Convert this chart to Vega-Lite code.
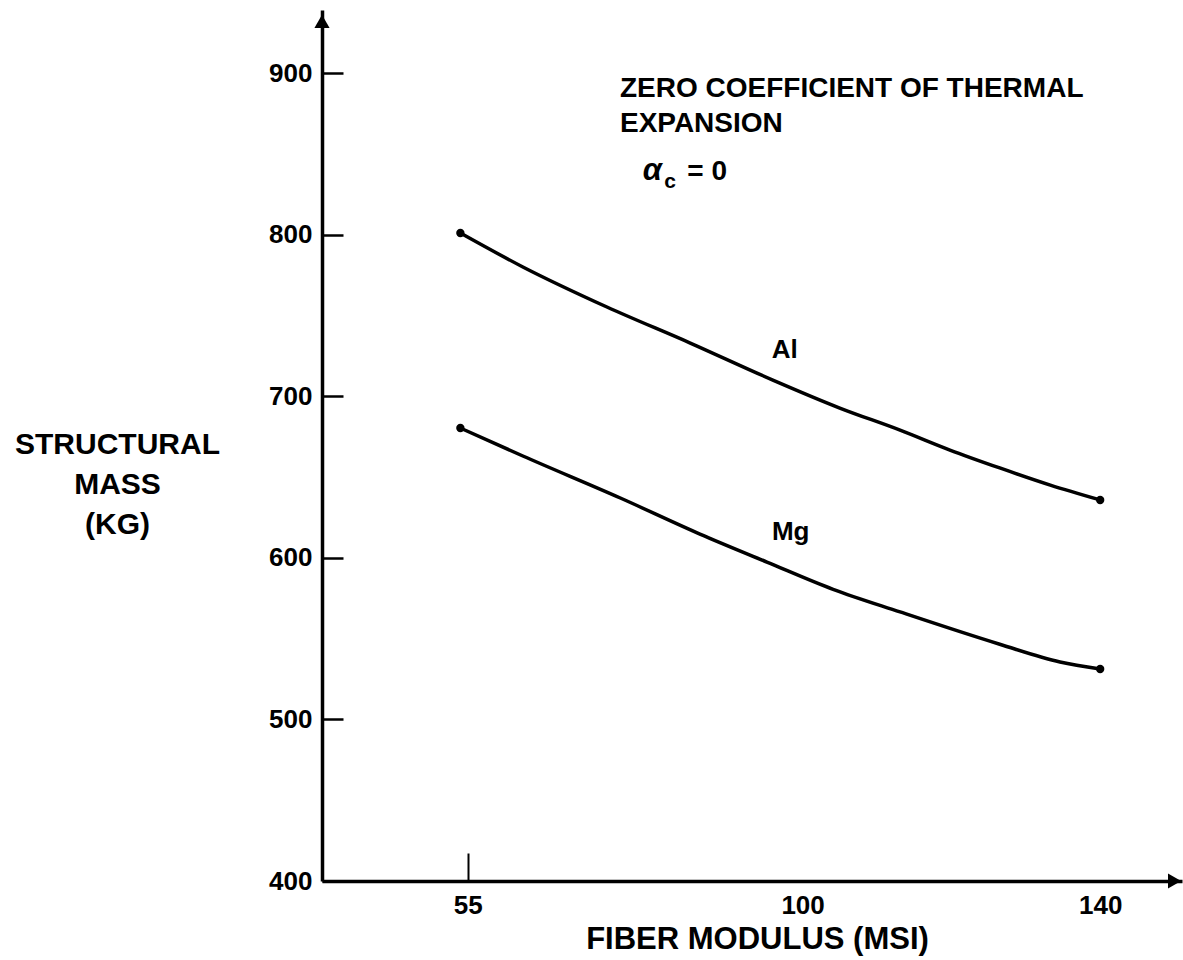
{
  "$schema": "https://vega.github.io/schema/vega-lite/v6.json",
  "width": 860,
  "height": 871,
  "autosize": {"type": "none"},
  "padding": {"left": 322, "top": 10, "right": 1, "bottom": 79},
  "background": "white",
  "config": {"view": {"stroke": null}, "font": "Liberation Sans"},
  "datasets": {
    "curves": [
      {"series": "Al", "x": 54.0, "y": 801},
      {"series": "Al", "x": 62.4, "y": 780},
      {"series": "Al", "x": 73.7, "y": 755.2},
      {"series": "Al", "x": 84.9, "y": 732.9},
      {"series": "Al", "x": 96.0, "y": 710},
      {"series": "Al", "x": 105.0, "y": 692.7},
      {"series": "Al", "x": 113.1, "y": 679},
      {"series": "Al", "x": 119.8, "y": 666.7},
      {"series": "Al", "x": 126.5, "y": 655.6},
      {"series": "Al", "x": 133.3, "y": 645},
      {"series": "Al", "x": 140.0, "y": 635.8},
      {"series": "Mg", "x": 54.0, "y": 680.3},
      {"series": "Mg", "x": 62.4, "y": 663},
      {"series": "Mg", "x": 75.5, "y": 637},
      {"series": "Mg", "x": 86.2, "y": 614.7},
      {"series": "Mg", "x": 95.2, "y": 597.4},
      {"series": "Mg", "x": 104.1, "y": 580.5},
      {"series": "Mg", "x": 113.1, "y": 566.5},
      {"series": "Mg", "x": 126.5, "y": 546.5},
      {"series": "Mg", "x": 134.6, "y": 535.5},
      {"series": "Mg", "x": 140.0, "y": 531.2}
    ],
    "labels": [
      {"id": "curve", "text": "Al", "x": 97.6, "y": 723.6},
      {"id": "curve", "text": "Mg", "x": 98.4, "y": 611},
      {"id": "note", "text": "ZERO COEFFICIENT OF THERMAL", "x": 75.45, "y": 885.1},
      {"id": "note", "text": "EXPANSION", "x": 75.45, "y": 863.8},
      {"id": "alpha", "text": "α", "x": 78.5, "y": 833.8},
      {"id": "sub", "text": "c", "x": 81.4, "y": 828.8},
      {"id": "eq", "text": "=  0", "x": 84.5, "y": 833.8}
    ],
    "arrows": [
      {"dir": "right", "x": 150, "y": 400},
      {"dir": "up", "x": 35.4, "y": 932}
    ]
  },
  "layer": [
    {
      "data": {"name": "curves"},
      "mark": {"type": "line", "interpolate": "monotone", "color": "black", "strokeWidth": 3.5},
      "encoding": {
        "x": {
          "field": "x", "type": "quantitative",
          "scale": {"domain": [35.4, 151], "nice": false, "zero": false},
          "axis": {
            "values": [55, 100, 140],
            "grid": false,
            "domainColor": "black", "domainWidth": 3.5,
            "tickColor": "black", "tickWidth": 2, "tickSize": -28,
            "tickOpacity": {"condition": {"test": "datum.value == 55", "value": 1}, "value": 0},
            "labelFontSize": 26, "labelFontWeight": "bold", "labelColor": "black",
            "labelBaseline": "alphabetic", "labelPadding": 60,
            "labelFlush": false, "labelOverlap": false,
            "title": "FIBER MODULUS (MSI)",
            "titleFontSize": 31, "titleFontWeight": "bold", "titleColor": "black",
            "titleX": 435, "titleY": 67, "titleAlign": "center", "titleBaseline": "alphabetic"
          }
        },
        "y": {
          "field": "y", "type": "quantitative",
          "scale": {"domain": [400, 939], "nice": false, "zero": false},
          "axis": {
            "values": [400, 500, 600, 700, 800, 900],
            "grid": false,
            "domainColor": "black", "domainWidth": 3.5,
            "tickColor": "black", "tickWidth": 2.5, "tickSize": -21,
            "labelFontSize": 26, "labelFontWeight": "bold", "labelColor": "black",
            "labelBaseline": "middle", "labelPadding": 31,
            "labelFlush": false, "labelOverlap": false,
            "title": ["STRUCTURAL", "MASS", "(KG)"],
            "titleFontSize": 30, "titleFontWeight": "bold", "titleColor": "black",
            "titleAngle": 0, "titleX": -205, "titleY": 443,
            "titleAlign": "center", "titleBaseline": "alphabetic", "titleLineHeight": 40
          }
        },
        "detail": {"field": "series"}
      }
    },
    {
      "data": {"name": "curves"},
      "transform": [{"filter": "datum.x < 55 || datum.x >= 140"}],
      "mark": {"type": "circle", "color": "black", "opacity": 1, "size": 70},
      "encoding": {
        "x": {"field": "x", "type": "quantitative"},
        "y": {"field": "y", "type": "quantitative"}
      }
    },
    {
      "data": {"name": "arrows"},
      "transform": [{"filter": "datum.dir == 'right'"}],
      "mark": {"type": "point", "shape": "triangle-right", "filled": true, "color": "black", "opacity": 1, "size": 230},
      "encoding": {
        "x": {"field": "x", "type": "quantitative"},
        "y": {"field": "y", "type": "quantitative"}
      }
    },
    {
      "data": {"name": "arrows"},
      "transform": [{"filter": "datum.dir == 'up'"}],
      "mark": {"type": "point", "shape": "triangle-up", "filled": true, "color": "black", "opacity": 1, "size": 230},
      "encoding": {
        "x": {"field": "x", "type": "quantitative"},
        "y": {"field": "y", "type": "quantitative"}
      }
    },
    {
      "data": {"name": "labels"},
      "transform": [{"filter": "datum.id == 'curve'"}],
      "mark": {"type": "text", "align": "center", "baseline": "alphabetic", "fontSize": 26, "fontWeight": "bold", "color": "black"},
      "encoding": {
        "x": {"field": "x", "type": "quantitative"},
        "y": {"field": "y", "type": "quantitative"},
        "text": {"field": "text"}
      }
    },
    {
      "data": {"name": "labels"},
      "transform": [{"filter": "datum.id == 'note' || datum.id == 'eq'"}],
      "mark": {"type": "text", "align": "left", "baseline": "alphabetic", "fontSize": 28, "fontWeight": "bold", "color": "black"},
      "encoding": {
        "x": {"field": "x", "type": "quantitative"},
        "y": {"field": "y", "type": "quantitative"},
        "text": {"field": "text"}
      }
    },
    {
      "data": {"name": "labels"},
      "transform": [{"filter": "datum.id == 'alpha'"}],
      "mark": {"type": "text", "align": "left", "baseline": "alphabetic", "fontSize": 31, "fontWeight": "bold", "fontStyle": "italic", "color": "black"},
      "encoding": {
        "x": {"field": "x", "type": "quantitative"},
        "y": {"field": "y", "type": "quantitative"},
        "text": {"field": "text"}
      }
    },
    {
      "data": {"name": "labels"},
      "transform": [{"filter": "datum.id == 'sub'"}],
      "mark": {"type": "text", "align": "left", "baseline": "alphabetic", "fontSize": 21, "fontWeight": "bold", "color": "black"},
      "encoding": {
        "x": {"field": "x", "type": "quantitative"},
        "y": {"field": "y", "type": "quantitative"},
        "text": {"field": "text"}
      }
    }
  ]
}
